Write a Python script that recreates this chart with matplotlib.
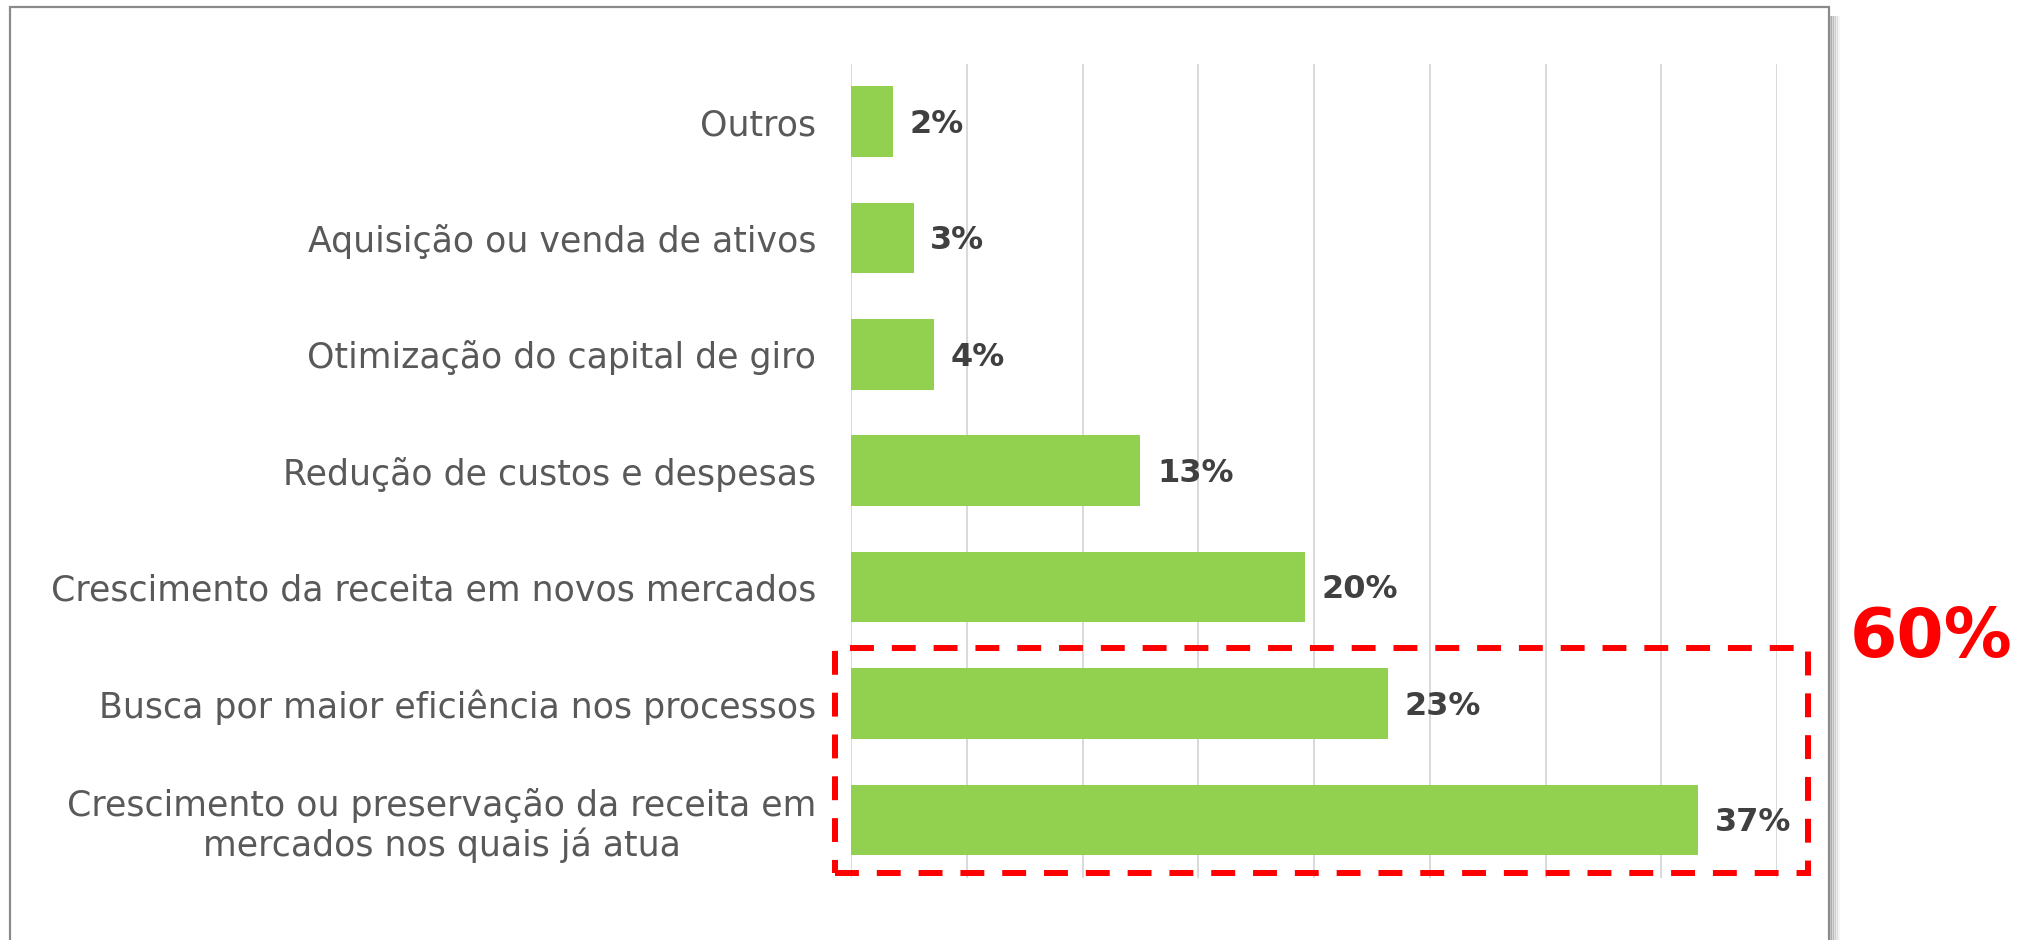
import matplotlib
matplotlib.use("Agg")
import matplotlib.pyplot as plt
from matplotlib.patches import Rectangle

# dados (de baixo para cima, como no gráfico)
categorias = [
    "Crescimento ou preservação da receita em\nmercados nos quais já atua",
    "Busca por maior eficiência nos processos",
    "Crescimento da receita em novos mercados",
    "Redução de custos e despesas",
    "Otimização do capital de giro",
    "Aquisição ou venda de ativos",
    "Outros",
]
percentuais = [36.6, 23.2, 19.6, 12.5, 3.6, 2.7, 1.8]
destaque = [0, 1]
destaque_texto = "60%"
xticks = [0, 5, 10, 15, 20, 25, 30, 35, 40]

W, H = 2018, 940
fig = plt.figure(figsize=(W / 100, H / 100), dpi=100)
fig.patch.set_facecolor("white")

# moldura cinza com sombra à direita
for i, a in enumerate([0.10, 0.08, 0.06, 0.04, 0.02]):
    fig.patches.append(Rectangle(((1829 + i * 2) / W, -0.05), 3 / W, (940 - 16) / H + 0.05,
                                 transform=fig.transFigure, facecolor="black",
                                 alpha=a * 2, edgecolor="none", zorder=0))
fig.patches.append(Rectangle((10 / W, -0.05), 1819 / W, (940 - 7) / H + 0.05,
                             transform=fig.transFigure, facecolor="white",
                             edgecolor="#8a8a8a", linewidth=1.6, zorder=1))

ax = fig.add_axes([851 / W, (940 - 878) / H, (1777 - 851) / W, (878 - 63.5) / H])
ax.set_facecolor("none")
ax.set_zorder(2)

y = list(range(len(categorias)))
ax.barh(y, percentuais, height=0.607, color="#92D050", zorder=3)

for yi, v in zip(y, percentuais):
    ax.annotate(f"{int(v + 0.5)}%", xy=(v, yi), xytext=(12, -2), textcoords="offset points",
                ha="left", va="center", fontsize=23, fontweight="bold",
                color="#404040", zorder=4)

ax.set_xlim(xticks[0], xticks[-1])
ax.set_ylim(-0.5, len(categorias) - 0.5)
ax.set_xticks(xticks)
ax.set_xticklabels([])
ax.set_yticks(y)
ax.set_yticklabels(categorias, fontsize=25, color="#595959", multialignment="center",
                   linespacing=1.15)
ax.tick_params(axis="both", length=0, pad=25)
ax.grid(axis="x", color="#d9d9d9", linewidth=1.4, zorder=0)
for s in ax.spines.values():
    s.set_visible(False)

# caixa tracejada vermelha em volta dos dois maiores
y0 = min(destaque) - 0.456
y1 = max(destaque) + 0.473
ax.add_patch(Rectangle((-0.69, y0), 41.35 + 0.69, y1 - y0, fill=False,
                       edgecolor="red", linewidth=4.3, linestyle=(0, (4, 3)),
                       clip_on=False, zorder=5))
ax.text(1931 / W, (940 - 638) / H, destaque_texto, transform=fig.transFigure,
        ha="center", va="center", fontsize=49, fontweight="bold", color="red")

fig.savefig("out.png", dpi=100)
